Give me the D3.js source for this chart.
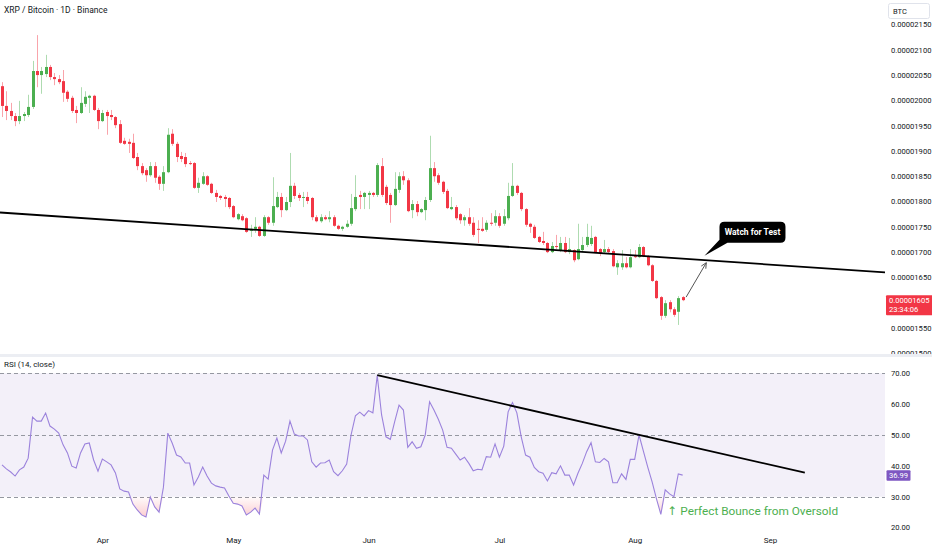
<!doctype html>
<meta charset="utf-8">
<title>XRP / Bitcoin 1D</title>
<script src="https://cdn.jsdelivr.net/npm/d3@7"></script>
<style>
  body { margin: 0; background: #fff; }
  svg { display: block; font-family: Roboto, "DejaVu Sans", sans-serif; }
</style>
<body>
<svg id="chart" width="932" height="550"></svg>
<script>

// prices are in satoshi (1e-8 BTC), one candle per day starting 2025-03-09
var firstDay = "2025-03-09";

var opens = [2028,1989,1979,1969,1959,1969,1971,1987,2058,2050,
  2052,2066,2046,2042,2038,2017,2005,1981,1975,1993,
  2005,2009,1981,1959,1977,1971,1967,1953,1920,1918,
  1916,1888,1870,1862,1852,1870,1849,1835,1858,1934,
  1914,1890,1888,1876,1876,1827,1835,1850,1835,1817,
  1811,1809,1807,1791,1765,1771,1767,1742,1746,1750,
  1732,1769,1758,1789,1809,1783,1799,1831,1813,1807,
  1809,1807,1769,1761,1769,1765,1769,1752,1746,1750,
  1756,1785,1813,1809,1813,1817,1813,1870,1829,1813,
  1793,1823,1850,1842,1783,1795,1779,1783,1803,1866,
  1852,1839,1821,1785,1789,1775,1763,1769,1758,1746,
  1746,1744,1758,1758,1771,1756,1767,1811,1831,1817,
  1785,1756,1750,1730,1722,1718,1700,1712,1704,1718,
  1700,1704,1686,1704,1714,1716,1730,1706,1700,1706,
  1702,1670,1670,1678,1670,1692,1690,1710,1692,1674,
  1643,1611,1574,1601,1587,1582,1611];

var highs = [2036,2018,1995,1975,1999,1977,2011,2078,2129,2066,
  2090,2070,2054,2050,2060,2020,2009,1989,2026,2018,
  2011,2011,1985,1981,1981,1981,1969,1961,1926,1924,
  1934,1896,1876,1866,1878,1878,1852,1870,1945,1943,
  1918,1898,1896,1880,1878,1847,1858,1852,1837,1823,
  1813,1813,1809,1793,1777,1775,1769,1754,1769,1752,
  1773,1771,1848,1819,1817,1809,1896,1837,1817,1819,
  1819,1809,1773,1775,1773,1781,1773,1754,1752,1763,
  1815,1852,1821,1819,1821,1819,1876,1886,1833,1817,
  1858,1858,1860,1846,1803,1801,1787,1809,1930,1878,
  1856,1841,1825,1809,1793,1777,1773,1787,1769,1763,
  1769,1763,1777,1783,1777,1785,1837,1876,1833,1819,
  1787,1758,1754,1732,1740,1720,1720,1734,1730,1730,
  1728,1706,1756,1730,1756,1752,1732,1708,1724,1710,
  1706,1684,1704,1690,1706,1704,1716,1712,1694,1676,
  1645,1613,1605,1605,1591,1613,1613];

var lows = [1967,1961,1961,1949,1953,1959,1967,1983,2026,2013,
  2046,2040,2030,2032,1997,1997,1975,1955,1973,1987,
  1975,1979,1943,1957,1932,1961,1945,1914,1912,1896,
  1884,1862,1852,1839,1849,1837,1823,1821,1856,1910,
  1878,1878,1868,1872,1825,1817,1833,1831,1815,1799,
  1803,1789,1785,1767,1763,1761,1738,1730,1738,1730,
  1730,1754,1752,1787,1769,1781,1789,1805,1801,1789,
  1795,1763,1759,1758,1763,1759,1750,1744,1742,1748,
  1752,1781,1785,1785,1785,1809,1809,1809,1793,1758,
  1791,1817,1833,1779,1767,1771,1777,1763,1799,1839,
  1833,1815,1785,1783,1763,1756,1752,1752,1730,1718,
  1740,1740,1752,1752,1748,1752,1763,1809,1813,1781,
  1750,1738,1726,1718,1714,1698,1698,1706,1700,1698,
  1696,1680,1684,1700,1710,1712,1698,1692,1698,1698,
  1670,1655,1665,1668,1668,1688,1688,1690,1672,1641,
  1607,1566,1570,1581,1572,1556,1603];

var closes = [1989,1979,1969,1959,1969,1973,1987,2058,2050,2058,
  2066,2046,2042,2036,2015,2003,1979,1975,1995,2007,
  2009,1981,1959,1975,1969,1967,1951,1916,1914,1914,
  1886,1870,1856,1852,1870,1847,1835,1858,1932,1914,
  1888,1884,1874,1874,1827,1837,1850,1833,1817,1809,
  1807,1805,1789,1769,1775,1763,1740,1746,1750,1732,
  1769,1758,1791,1809,1783,1799,1831,1811,1807,1809,
  1801,1769,1761,1769,1765,1769,1752,1746,1750,1756,
  1787,1809,1809,1817,1817,1813,1872,1813,1797,1793,
  1825,1850,1842,1781,1795,1779,1785,1803,1866,1850,
  1837,1819,1787,1789,1767,1763,1769,1756,1734,1744,
  1742,1758,1756,1771,1752,1771,1811,1831,1817,1785,
  1754,1750,1728,1720,1718,1700,1712,1710,1718,1700,
  1706,1684,1706,1714,1730,1728,1700,1698,1706,1700,
  1672,1678,1678,1670,1690,1690,1710,1692,1674,1643,
  1609,1574,1599,1587,1576,1609,1605];

var rsi = [40.3,39.0,38.0,36.7,38.7,39.6,42.5,55.8,54.5,54.5,
  57.1,52.9,51.9,50.6,46.8,44.2,39.9,39.3,44.2,47.1,
  47.4,41.9,38.3,42.2,41.3,40.3,37.7,32.5,31.8,31.5,
  27.6,25.7,24.1,23.4,29.9,26.7,25.0,33.1,50.6,47.4,
  43.5,42.9,40.9,40.9,33.8,36.4,39.6,36.7,34.4,33.5,
  33.1,32.8,30.2,27.9,27.6,27.0,24.1,25.0,26.3,24.4,
  37.0,35.7,45.1,49.0,44.2,48.0,54.5,50.3,49.7,49.7,
  48.4,41.3,39.6,40.9,41.0,41.9,38.1,36.8,38.4,40.6,
  50.0,56.2,57.4,56.2,57.9,57.2,69.3,56.5,49.4,48.6,
  54.3,59.7,58.1,46.0,47.8,45.7,46.2,50.0,60.8,58.1,
  55.1,51.6,46.0,45.7,43.8,41.9,42.8,40.8,38.4,38.9,
  38.7,43.0,42.8,47.1,42.8,46.4,57.5,60.5,57.2,49.4,
  43.5,42.8,39.5,38.1,37.6,35.1,37.8,37.4,40.0,37.0,
  37.0,33.8,37.6,40.8,44.6,47.5,41.3,41.1,42.4,41.3,
  34.5,34.5,37.4,35.6,42.1,42.1,50.0,44.8,39.6,34.8,
  29.3,24.3,32.2,30.9,30.0,37.4,36.99];

// 1600 sits under the last-price tag, so it is not labelled
var priceTicks = [1500,1550,1650,1700,1750,1800,1850,1900,1950,2000,2050,2100,2150];
var rsiTicks = [20,30,40,50,60,70];
var rsiLevels = [70,50,30];

// drawings (date, value)
var priceTrend = [["2025-03-09", 1778], ["2025-08-12", 1687]];
var rsiTrend = [["2025-06-03", 69.4], ["2025-09-09", 37.8]];
var arrowPts = [["2025-08-12T19:00", 1611], ["2025-08-17T10:00", 1679]];
var calloutTip = ["2025-08-17", 1693];
var lastPrice = 1605, lastTime = "23:34:06";

var parse = function(s) { return new Date(s + (s.length > 10 ? "Z" : "T00:00Z")); };
var days = d3.utcDay.range(parse(firstDay), d3.utcDay.offset(parse(firstDay), closes.length));
var candles = days.map(function(d, i) {
  return {date: d, o: opens[i], h: highs[i], l: lows[i], c: closes[i], r: rsi[i]};
});

var svg = d3.select("#chart");
var plotW = 885, paneBottom = 353;

var t0 = d3.utcHour.offset(days[0], -11);
var x = d3.scaleUtc()
  .domain([t0, d3.utcHour.offset(t0, Math.round(24 * plotW / 4.363))])
  .range([0, plotW]);
var y = d3.scaleLinear().domain([1502.5, 2198.4]).range([352, 0]);
var yr = d3.scaleLinear().domain([30, 70]).range([496.7, 373.3]);

var defs = svg.append("defs");
defs.append("clipPath").attr("id", "clipPrice")
  .append("rect").attr("x", 0).attr("y", 0).attr("width", plotW).attr("height", paneBottom);
defs.append("clipPath").attr("id", "clipRsi")
  .append("rect").attr("x", 0).attr("y", 358).attr("width", plotW).attr("height", 172);
var grad = defs.append("linearGradient").attr("id", "osGrad")
  .attr("x1", 0).attr("y1", 0).attr("x2", 0).attr("y2", 1);
grad.append("stop").attr("offset", "0%").attr("stop-color", "#f23645").attr("stop-opacity", 0.02);
grad.append("stop").attr("offset", "100%").attr("stop-color", "#f23645").attr("stop-opacity", 0.25);

var green = "#4caf50", red = "#f23645";

// ---- price pane
var price = svg.append("g").attr("clip-path", "url(#clipPrice)");
var bw = 3;

var cg = price.selectAll("g.candle").data(candles).enter().append("g")
  .attr("class", "candle");
cg.append("line")
  .attr("x1", function(d) { return Math.round(x(d.date)) + 0.5; })
  .attr("x2", function(d) { return Math.round(x(d.date)) + 0.5; })
  .attr("y1", function(d) { return y(d.h); })
  .attr("y2", function(d) { return y(d.l); })
  .attr("stroke", function(d) { return d.c >= d.o ? green : red; })
  .attr("stroke-opacity", 0.45)
  .attr("stroke-width", 1);
cg.append("rect")
  .attr("x", function(d) { return Math.round(x(d.date)) + 0.5 - bw / 2; })
  .attr("width", bw)
  .attr("y", function(d) { return y(Math.max(d.o, d.c)); })
  .attr("height", function(d) { return Math.max(1, Math.abs(y(d.o) - y(d.c))); })
  .attr("fill", function(d) { return d.c >= d.o ? green : red; });

// trend line on price, extended across pane
var p1 = [x(parse(priceTrend[0][0])), y(priceTrend[0][1])];
var p2 = [x(parse(priceTrend[1][0])), y(priceTrend[1][1])];
var k = (p2[1] - p1[1]) / (p2[0] - p1[0]);
price.append("line")
  .attr("x1", 0).attr("y1", p1[1] - k * p1[0])
  .attr("x2", plotW).attr("y2", p1[1] + k * (plotW - p1[0]))
  .attr("stroke", "#000").attr("stroke-width", 1.8);

// arrow
var a1 = [x(parse(arrowPts[0][0])), y(arrowPts[0][1])];
var a2 = [x(parse(arrowPts[1][0])), y(arrowPts[1][1])];
var ang = Math.atan2(a2[1] - a1[1], a2[0] - a1[0]);
price.append("path")
  .attr("d", "M" + a1 + "L" + a2 +
    "M" + [a2[0] - 6 * Math.cos(ang - 0.45), a2[1] - 6 * Math.sin(ang - 0.45)] + "L" + a2 +
    "L" + [a2[0] - 6 * Math.cos(ang + 0.45), a2[1] - 6 * Math.sin(ang + 0.45)])
  .attr("fill", "none").attr("stroke", "#555").attr("stroke-width", 1);

// callout
var tip = [x(parse(calloutTip[0])), y(calloutTip[1])];
var bx = tip[0] + 15, by = tip[1] - 34, bW = 66, bH = 21, r = 5;
price.append("path")
  .attr("d", "M" + (bx + r) + "," + by + "H" + (bx + bW - r) +
    "Q" + (bx + bW) + "," + by + " " + (bx + bW) + "," + (by + r) +
    "V" + (by + bH - r) + "Q" + (bx + bW) + "," + (by + bH) + " " + (bx + bW - r) + "," + (by + bH) +
    "H" + (bx + 8) + "L" + tip[0] + "," + tip[1] + "L" + bx + "," + (by + bH - 3) +
    "V" + (by + r) + "Q" + bx + "," + by + " " + (bx + r) + "," + by + "Z")
  .attr("fill", "#000");
price.append("text")
  .attr("x", bx + bW / 2).attr("y", by + bH / 2 + 3)
  .attr("text-anchor", "middle").attr("fill", "#fff")
  .attr("font-size", 8.5).attr("font-weight", "bold")
  .text("Watch for Test");

// title
svg.append("text").attr("x", 4).attr("y", 13)
  .attr("font-size", 8.5).attr("fill", "#131722")
  .text("XRP / Bitcoin · 1D · Binance");

// price axis
var pAxis = svg.append("g").attr("transform", "translate(" + 889 + ",0)")
  .call(d3.axisRight(y).tickValues(priceTicks).tickSize(0)
    .tickFormat(function(d) { return (d / 1e8).toFixed(8); }));
pAxis.select(".domain").remove();
pAxis.selectAll("text").attr("font-size", 7.6).attr("fill", "#131722")
  .attr("font-family", "Roboto, sans-serif").attr("x", 2);

svg.append("rect").attr("x", 888.5).attr("y", 3.5).attr("width", 41).attr("height", 15)
  .attr("rx", 2).attr("fill", "#fff").attr("stroke", "#e0e3eb");
svg.append("text").attr("x", 893).attr("y", 14).attr("font-size", 7.5)
  .attr("fill", "#131722").text("BTC");

var ly = y(lastPrice);
svg.append("rect").attr("x", 886).attr("y", ly - 5).attr("width", 47).attr("height", 20)
  .attr("fill", red).attr("rx", 1);
svg.append("text").attr("x", 889).attr("y", ly + 3).attr("font-size", 7.6)
  .attr("fill", "#fff").text((lastPrice / 1e8).toFixed(8));
svg.append("text").attr("x", 889).attr("y", ly + 12).attr("font-size", 7.6)
  .attr("fill", "#fff").text(lastTime);

// separator
svg.append("rect").attr("x", 0).attr("y", 354).attr("width", 932).attr("height", 3)
  .attr("fill", "#eceef3");

// ---- RSI pane
var rp = svg.append("g").attr("clip-path", "url(#clipRsi)");
rp.append("rect").attr("x", 0).attr("width", plotW)
  .attr("y", yr(70)).attr("height", yr(30) - yr(70))
  .attr("fill", "#7e57c2").attr("fill-opacity", 0.09);
rp.selectAll("line.lvl").data(rsiLevels).enter().append("line")
  .attr("class", "lvl")
  .attr("x1", 0).attr("x2", plotW)
  .attr("y1", function(d) { return Math.round(yr(d)) + 0.5; })
  .attr("y2", function(d) { return Math.round(yr(d)) + 0.5; })
  .attr("stroke", "#9598a1").attr("stroke-dasharray", "4,3").attr("stroke-width", 1);

rp.append("path").datum(candles)
  .attr("d", d3.area()
    .x(function(d) { return x(d.date); })
    .y0(yr(30))
    .y1(function(d) { return yr(Math.min(d.r, 30)); }))
  .attr("fill", "url(#osGrad)");

rp.append("path").datum(candles)
  .attr("d", d3.line().x(function(d) { return x(d.date); }).y(function(d) { return yr(d.r); }))
  .attr("fill", "none").attr("stroke", "#9b82dc").attr("stroke-width", 1.1);

var q1 = [x(parse(rsiTrend[0][0])), yr(rsiTrend[0][1])];
var q2 = [x(parse(rsiTrend[1][0])), yr(rsiTrend[1][1])];
rp.append("line").attr("x1", q1[0]).attr("y1", q1[1]).attr("x2", q2[0]).attr("y2", q2[1])
  .attr("stroke", "#000").attr("stroke-width", 1.8);

svg.append("text").attr("x", x(days[153]) - 2).attr("y", yr(24))
  .attr("font-size", 11.8).attr("fill", "#4caf50")
  .text("↑ Perfect Bounce from Oversold");

svg.append("text").attr("x", 4).attr("y", 367).attr("font-size", 8)
  .attr("fill", "#131722").text("RSI (14, close)");

var rAxis = svg.append("g").attr("transform", "translate(889,0)")
  .call(d3.axisRight(yr).tickValues(rsiTicks).tickSize(0).tickFormat(d3.format(".2f")));
rAxis.select(".domain").remove();
rAxis.selectAll("text").attr("font-size", 7.6).attr("fill", "#131722")
  .attr("font-family", "Roboto, sans-serif").attr("x", 2);

var lr = yr(rsi[rsi.length - 1]);
svg.append("rect").attr("x", 886.5).attr("y", lr - 5).attr("width", 24).attr("height", 10.5)
  .attr("fill", "#7e57c2").attr("rx", 1);
svg.append("text").attr("x", 889).attr("y", lr + 3).attr("font-size", 7.6)
  .attr("fill", "#fff").text(rsi[rsi.length - 1].toFixed(2));

// time axis
var tAxis = svg.append("g").attr("transform", "translate(0,535)")
  .call(d3.axisBottom(x).ticks(d3.utcMonth.every(1)).tickSize(0).tickFormat(d3.utcFormat("%b")));
tAxis.select(".domain").remove();
tAxis.selectAll("text").attr("font-size", 8).attr("fill", "#131722")
  .attr("font-family", "Roboto, sans-serif").attr("dy", "0.6em");

</script>
</body>
